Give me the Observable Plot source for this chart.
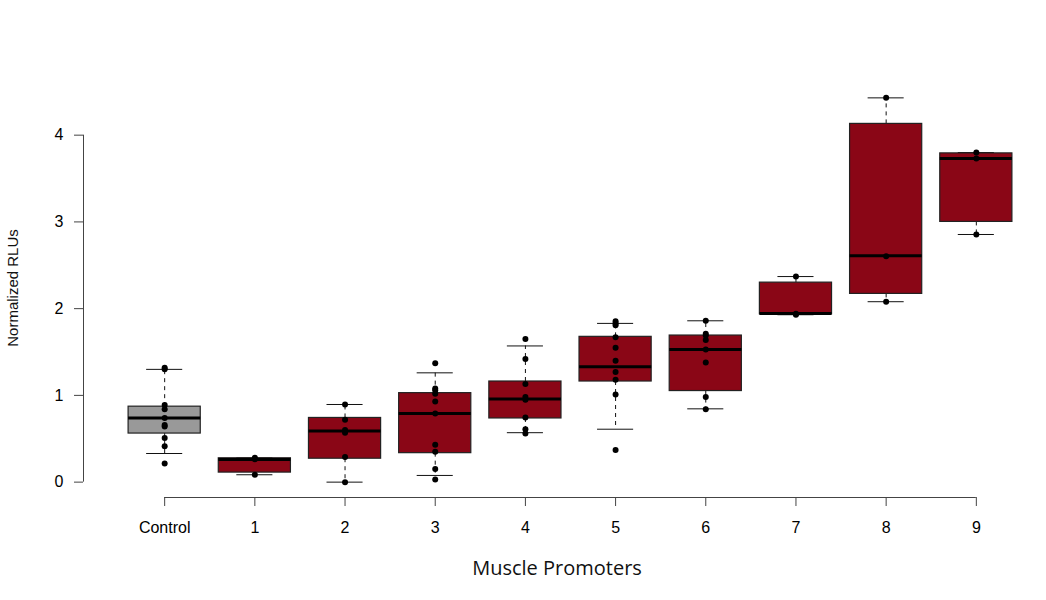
<!DOCTYPE html>
<html><head><meta charset="utf-8">
<script src="https://cdn.jsdelivr.net/npm/d3@7"></script>
<script src="https://cdn.jsdelivr.net/npm/@observablehq/plot@0.6"></script>
<style>body{margin:0;background:#fff}</style>
</head><body><div id="chart"></div>
<script>
const categories = ["Control", "1", "2", "3", "4", "5", "6", "7", "8", "9"];
const lowerWhisker = [0.33, 0.085, 0.0, 0.077, 0.57, 0.61, 0.845, 1.93, 2.08, 2.855];
const lowerHinge   = [0.56, 0.11, 0.27, 0.334, 0.734, 1.16, 1.05, 1.935, 2.17, 3.00];
const medians      = [0.74, 0.26, 0.59, 0.79, 0.957, 1.33, 1.53, 1.945, 2.61, 3.73];
const upperHinge   = [0.87, 0.275, 0.74, 1.026, 1.16, 1.675, 1.69, 2.30, 4.13, 3.79];
const upperWhisker = [1.30, 0.28, 0.895, 1.26, 1.57, 1.83, 1.86, 2.37, 4.43, 3.80];
const pointValues = [
  [1.32, 1.30, 0.89, 0.84, 0.74, 0.66, 0.64, 0.51, 0.415, 0.215],
  [0.28, 0.265, 0.085],
  [0.895, 0.72, 0.60, 0.57, 0.29, 0.0],
  [1.37, 1.08, 1.06, 1.02, 0.93, 0.79, 0.43, 0.35, 0.15, 0.03],
  [1.65, 1.42, 1.13, 0.98, 0.95, 0.745, 0.61, 0.56],
  [1.855, 1.83, 1.81, 1.67, 1.55, 1.40, 1.27, 1.18, 1.01, 0.37],
  [1.86, 1.71, 1.69, 1.64, 1.53, 1.38, 0.98, 0.84],
  [2.37, 1.94, 1.93],
  [4.43, 2.605, 2.08],
  [3.80, 3.73, 2.855]
];
const yTicks = [0, 1, 2, 3, 4];

const idx = categories.map((_, i) => i);
const pos = i => i + 1;
const points = pointValues.flatMap((vals, i) => vals.map(v => ({x: pos(i), y: v})));

const xDomain = [0.1, 10.9];
const yDomain = [-0.1772, 4.6072];
const red = "#8a0616", grey = "#999999";
const boxHalf = 0.4, capHalf = 0.2;

const plot = Plot.plot({
  width: 1046, height: 600,
  marginLeft: 83, marginRight: 0, marginTop: 82, marginBottom: 103,
  style: {fontFamily: "'Liberation Sans', Arial, Helvetica, sans-serif", fontSize: "15px", background: "white", color: "black", overflow: "visible"},
  x: {type: "linear", domain: xDomain, range: [83, 1057], axis: null},
  y: {type: "linear", domain: yDomain, axis: null},
  marks: [
    Plot.ruleX(idx, {x: pos, y1: i => upperHinge[i], y2: i => upperWhisker[i], stroke: "#111", strokeWidth: 1, strokeDasharray: "4,4"}),
    Plot.ruleX(idx, {x: pos, y1: i => lowerHinge[i], y2: i => lowerWhisker[i], stroke: "#111", strokeWidth: 1, strokeDasharray: "4,4"}),
    Plot.ruleY(idx, {y: i => upperWhisker[i], x1: i => pos(i) - capHalf, x2: i => pos(i) + capHalf, stroke: "#111", strokeWidth: 1}),
    Plot.ruleY(idx, {y: i => lowerWhisker[i], x1: i => pos(i) - capHalf, x2: i => pos(i) + capHalf, stroke: "#111", strokeWidth: 1}),
    Plot.rect(idx, {x1: i => pos(i) - boxHalf, x2: i => pos(i) + boxHalf, y1: i => lowerHinge[i], y2: i => upperHinge[i], fill: i => i === 0 ? grey : red, stroke: "#222", strokeWidth: 1.2}),
    Plot.ruleY(idx, {y: i => medians[i], x1: i => pos(i) - boxHalf, x2: i => pos(i) + boxHalf, stroke: "black", strokeWidth: 3}),
    Plot.dot(points, {x: "x", y: "y", r: 3, fill: "black", stroke: "none"}),
    Plot.ruleX([xDomain[0]], {y1: yTicks[0], y2: yTicks[yTicks.length - 1], stroke: "#444", strokeWidth: 1}),
    Plot.ruleY([yDomain[0]], {x1: pos(0), x2: pos(categories.length - 1), stroke: "#444", strokeWidth: 1}),
    Plot.axisY(yTicks, {anchor: "left", tickSize: 9, tickPadding: 11, label: null, fontSize: 16, tickFormat: d => String(d), stroke: "#444"}),
    Plot.axisX(idx.map(pos), {anchor: "bottom", tickSize: 9, tickPadding: 15, label: null, fontSize: 16, tickFormat: d => categories[d - 1], stroke: "#444"}),
    Plot.text(["Muscle Promoters"], {frameAnchor: "bottom", dy: 77, dx: -8, textAnchor: "middle", fontSize: 20, fontFamily: "'Open Sans', 'Noto Sans', sans-serif", fill: "#111"}),
    Plot.text(["Normalized RLUs"], {frameAnchor: "left", dx: -70, dy: -2, rotate: -90, textAnchor: "middle", fontSize: 15, fill: "#111"})
  ]
});
document.getElementById("chart").appendChild(plot);
</script>
</body></html>
